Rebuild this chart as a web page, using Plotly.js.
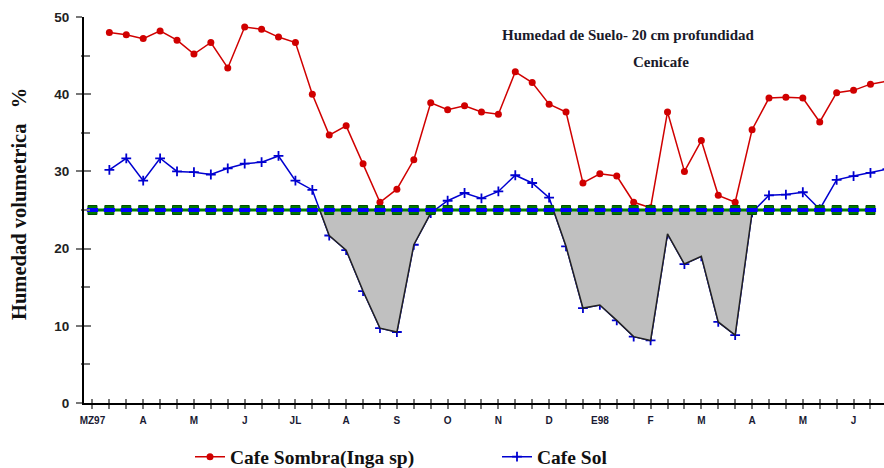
<!DOCTYPE html>
<html>
<head>
<meta charset="utf-8">
<script src="https://cdn.plot.ly/plotly-3.0.1.min.js"></script>
<style>
html,body{margin:0;padding:0;background:#ffffff;}
#chart{width:884px;height:468px;}
</style>
</head>
<body>
<div id="chart"></div>
<script>
// Month tick labels (one label every third 10-day period)
const tickLabels = ['MZ97','A','M','J','JL','A','S','O','N','D','E98','F','M','A','M','J'];
const tickIndex = [0,3,6,9,12,15,18,21,24,27,30,33,36,39,42,45];

// 10-day periods at which soil moisture was read
const periodIndex = [1,2,3,4,5,6,7,8,9,10,11,12,13,14,15,16,17,18,19,20,21,22,23,24,25,26,27,28,29,30,31,32,33,34,35,36,37,38,39,40,41,42,43,44,45,46,47];

// Cafe Sombra (Inga sp) - volumetric moisture %
const cafeSombra = [48.0,47.7,47.2,48.2,47.0,45.2,46.7,43.4,48.7,48.4,47.4,46.7,40.0,34.7,35.9,31.0,26.0,27.7,31.5,38.9,
  38.0,38.5,37.7,37.4,42.9,41.5,38.7,37.7,28.5,29.7,29.4,26.0,25.3,37.7,30.0,34.0,26.9,26.0,35.4,39.5,
  39.6,39.5,36.4,40.2,40.5,41.3,41.7];

// Cafe Sol - volumetric moisture %
const cafeSol = [30.2,31.7,28.8,31.7,30.0,29.9,29.6,30.4,31.0,31.2,32.0,28.8,27.6,21.7,19.8,14.5,9.7,9.2,20.5,24.6,
  26.2,27.2,26.5,27.4,29.5,28.5,26.6,20.3,12.3,12.7,10.7,8.6,8.1,21.9,18.0,19.0,10.5,8.8,24.7,26.9,
  27.0,27.3,25.1,28.9,29.4,29.8,30.3];

// Critical moisture level line
const thresholdValue = 25;
const thresholdIndex = [0,1,2,3,4,5,6,7,8,9,10,11,12,13,14,15,16,17,18,19,20,21,22,23,24,25,26,27,28,29,30,31,32,33,34,35,36,37,38,39,40,41,42,43,44,45,46];

// Build deficit polygons (where Cafe Sol falls below the threshold)
function deficitPolygons(xs, ys, thr) {
  const px = [], py = [];
  let inSeg = false, startX = null;
  for (let k = 0; k < xs.length; k++) {
    const y = ys[k];
    if (y < thr) {
      if (!inSeg) {
        if (k > 0) {
          const t = (ys[k-1] - thr) / (ys[k-1] - y);
          startX = xs[k-1] + t * (xs[k] - xs[k-1]);
        } else { startX = xs[k]; }
        px.push(startX); py.push(thr);
        inSeg = true;
      }
      px.push(xs[k]); py.push(y);
    } else if (inSeg) {
      const t = (thr - ys[k-1]) / (y - ys[k-1]);
      const endX = xs[k-1] + t * (xs[k] - xs[k-1]);
      px.push(endX); py.push(thr);
      px.push(startX); py.push(thr);
      px.push(null); py.push(null);
      inSeg = false;
    }
  }
  return {x: px, y: py};
}
const poly = deficitPolygons(periodIndex, cafeSol, thresholdValue);
const thrY = thresholdIndex.map(() => thresholdValue);

const serif = 'Liberation Serif, Times New Roman, serif';
const sans = 'Liberation Sans, Arial, sans-serif';

const traces = [
  {
    x: periodIndex, y: cafeSol, type: 'scatter', mode: 'lines+markers',
    name: 'Cafe Sol',
    line: {color: '#0000d0', width: 1.5},
    marker: {symbol: 'cross-thin', size: 7, line: {color: '#0000d0', width: 1.8}},
    cliponaxis: true
  },
  {
    x: periodIndex, y: cafeSombra, type: 'scatter', mode: 'lines+markers',
    name: 'Cafe Sombra(Inga sp)',
    line: {color: '#d00000', width: 1.5},
    marker: {symbol: 'circle', size: 7, color: '#d00000'},
    cliponaxis: true
  },
  {
    x: poly.x, y: poly.y, type: 'scatter', mode: 'lines', fill: 'toself',
    fillcolor: '#c0c0c0', line: {color: '#222222', width: 1.5},
    showlegend: false, hoverinfo: 'skip'
  },
  {
    x: thresholdIndex, y: thrY, type: 'scatter', mode: 'lines+markers',
    line: {color: '#008000', width: 3},
    marker: {symbol: 'square', size: 9, color: '#007a00', line: {color: '#005000', width: 1}},
    showlegend: false, hoverinfo: 'skip', xaxis: 'x2', yaxis: 'y2'
  },
  {
    x: thresholdIndex, y: thrY, type: 'scatter', mode: 'markers',
    marker: {symbol: 'line-ew', size: 8, line: {color: '#0000ff', width: 4}},
    showlegend: false, hoverinfo: 'skip', xaxis: 'x2', yaxis: 'y2'
  }
];

const xr = [-0.5, 46.8];
const yr = [0, 50];
const tickCol = '#777777';

const layout = {
  width: 884, height: 468,
  margin: {l: 84, r: 0, t: 17, b: 65},
  paper_bgcolor: '#ffffff', plot_bgcolor: '#ffffff',
  showlegend: true,
  title: {
    text: 'Humedad de Suelo- 20 cm profundidad',
    x: 628/884, xanchor: 'center', xref: 'container',
    y: 1 - 35/468, yanchor: 'middle', yref: 'container',
    font: {family: serif, size: 15, color: '#1a1a2a', weight: 'bold'}
  },
  annotations: [
    {
      text: 'Cenicafe', xref: 'paper', yref: 'paper',
      x: (661-84)/800, y: (403-62)/386, xanchor: 'center', yanchor: 'middle',
      showarrow: false, font: {family: serif, size: 15, color: '#1a1a2a', weight: 'bold'}
    },
    {
      text: 'Humedad volumetrica\u00a0\u00a0 %', xref: 'paper', yref: 'paper',
      x: (19-84)/800, y: (403-204)/386, xanchor: 'center', yanchor: 'middle',
      textangle: -90, showarrow: false,
      font: {family: serif, size: 20.5, color: '#111111', weight: 'bold'}
    }
  ],
  legend: {
    orientation: 'h', xref: 'container', x: 190/884, xanchor: 'left',
    yref: 'container', y: 1 - 457/468, yanchor: 'middle',
    font: {family: serif, size: 19.5, color: '#111111', weight: 'bold'},
    traceorder: 'reversed', entrywidth: 262, bgcolor: 'rgba(0,0,0,0)'
  },
  xaxis: {
    range: xr, showgrid: false, zeroline: false,
    showline: true, linecolor: '#000000', linewidth: 2,
    tickmode: 'array', tickvals: tickIndex, ticktext: tickLabels,
    ticks: 'outside', ticklen: 4, tickwidth: 2, tickcolor: tickCol,
    minor: {dtick: 1, tick0: 0, ticks: 'outside', ticklen: 4, tickwidth: 2, tickcolor: tickCol},
    tickfont: {family: sans, size: 10, color: '#1a1a33', weight: 'bold'},
    ticklabelstandoff: 3
  },
  yaxis: {
    range: yr, showgrid: false, zeroline: false,
    showline: true, linecolor: '#000000', linewidth: 2,
    tickmode: 'array', tickvals: [0,10,20,30,40,50],
    ticks: 'outside', ticklen: 6, tickwidth: 2, tickcolor: tickCol,
    minor: {tickvals: [5,15,25,35,45], ticks: 'outside', ticklen: 1, tickwidth: 2, tickcolor: tickCol},
    tickfont: {family: sans, size: 13.5, color: '#222222', weight: 'bold'},
    ticklabelstandoff: 4
  },
  xaxis2: {
    range: xr, overlaying: 'x', anchor: 'y2', showgrid: false, zeroline: false, showline: false,
    tickmode: 'array', tickvals: tickIndex, showticklabels: false,
    ticks: 'inside', ticklen: 4, tickwidth: 2, tickcolor: tickCol,
    minor: {dtick: 1, tick0: 0, ticks: 'inside', ticklen: 4, tickwidth: 2, tickcolor: tickCol}
  },
  yaxis2: {
    range: yr, overlaying: 'y', anchor: 'x2', side: 'left', showgrid: false, zeroline: false, showline: false,
    tickmode: 'array', tickvals: [0,10,20,30,40,50], showticklabels: false,
    ticks: 'inside', ticklen: 7, tickwidth: 2, tickcolor: tickCol,
    minor: {tickvals: [5,15,25,35,45], ticks: 'inside', ticklen: 6, tickwidth: 2, tickcolor: tickCol}
  }
};

Plotly.newPlot('chart', traces, layout, {displayModeBar: false, staticPlot: true});
</script>
</body>
</html>
